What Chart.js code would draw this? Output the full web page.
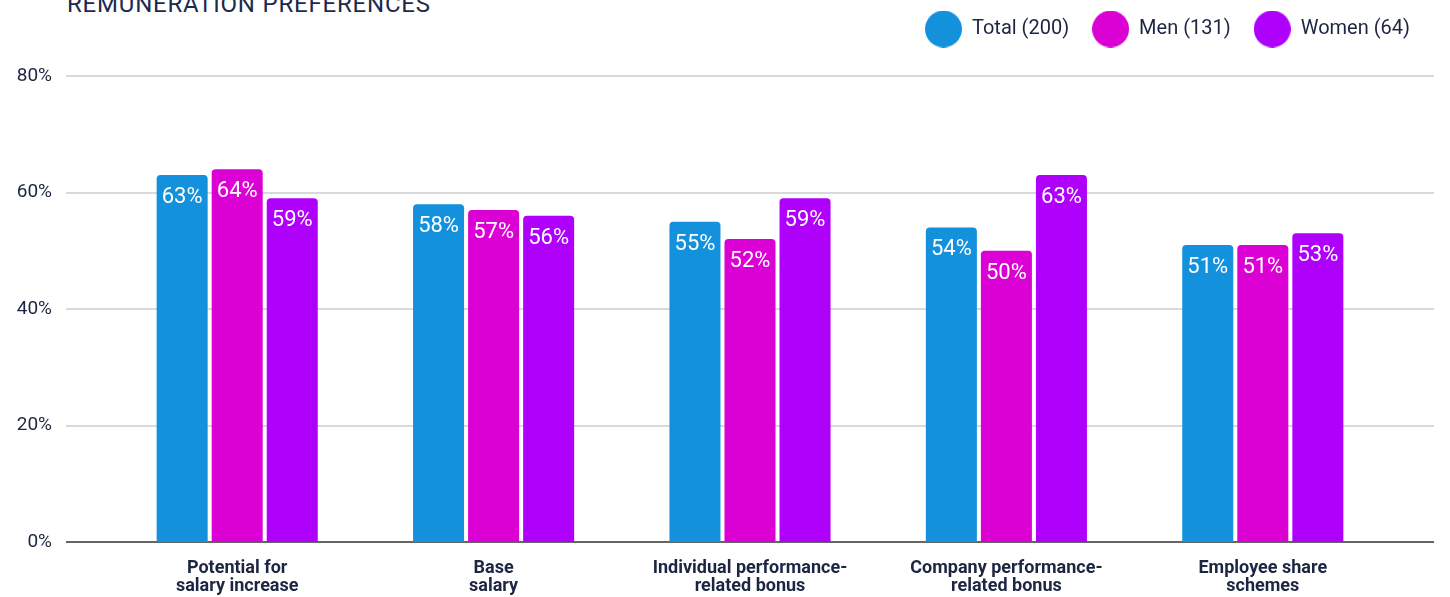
<!DOCTYPE html>
<html>
<head>
<meta charset="utf-8">
<script src="https://cdn.jsdelivr.net/npm/chart.js@4/dist/chart.umd.min.js"></script>
<style>
  html, body { margin: 0; padding: 0; background: #fff; overflow: hidden; }
  .wrap { position: relative; width: 1450px; height: 597px; }
  .title {
    position: absolute; left: 67px; top: -8px;
    font: 400 24px/24px Roboto, sans-serif; letter-spacing: 0.8px;
    color: #1b2a4e; white-space: nowrap;
  }
  canvas { position: absolute; left: 0; top: 0; }
</style>
</head>
<body>
<div class="wrap">
  <div class="title">REMUNERATION PREFERENCES</div>
  <canvas id="remuneration-chart" width="1450" height="597"></canvas>
</div>
<script>
  // Data.
  var categories = [
    ['Potential for', 'salary increase'],
    ['Base', 'salary'],
    ['Individual performance-', 'related bonus'],
    ['Company performance-', 'related bonus'],
    ['Employee share', 'schemes']
  ];
  var seriesNames = ['Total (200)', 'Men (131)', 'Women (64)'];
  var totalValues = [63, 58, 55, 54, 51];
  var menValues = [64, 57, 52, 50, 51];
  var womenValues = [59, 56, 59, 63, 53];
  var yTicks = [0, 20, 40, 60, 80];

  var colors = ['#1391dd', '#db00d3', '#ae00fb'];
  var textColor = '#1c2541';

  // Big round legend markers (bigger than the font allows by default).
  function circleMarker(color) {
    var c = document.createElement('canvas');
    c.width = 37;
    c.height = 37;
    var g = c.getContext('2d');
    g.fillStyle = color;
    g.beginPath();
    g.arc(18.5, 18.5, 18.5, 0, Math.PI * 2);
    g.fill();
    return c;
  }
  var markers = colors.map(circleMarker);

  // Gridlines run past the category area, so they are drawn here.
  var wideGrid = {
    id: 'wideGrid',
    beforeDatasetsDraw: function (chart) {
      var ctx = chart.ctx;
      var y = chart.scales.y;
      ctx.save();
      yTicks.forEach(function (v) {
        var py = Math.round(y.getPixelForValue(v));
        ctx.strokeStyle = v === 0 ? '#666666' : '#d9d9d9';
        ctx.lineWidth = 2;
        ctx.beginPath();
        ctx.moveTo(66, py);
        ctx.lineTo(1434, py);
        ctx.stroke();
      });
      ctx.restore();
    }
  };

  // Value labels inside the top of each bar.
  var barLabels = {
    id: 'barLabels',
    afterDatasetsDraw: function (chart) {
      var ctx = chart.ctx;
      ctx.save();
      ctx.fillStyle = '#ffffff';
      ctx.font = '400 22px Roboto, sans-serif';
      ctx.textAlign = 'center';
      ctx.textBaseline = 'alphabetic';
      chart.data.datasets.forEach(function (ds, i) {
        chart.getDatasetMeta(i).data.forEach(function (bar, j) {
          ctx.fillText(ds.data[j] + '%', bar.x, bar.y + 28);
        });
      });
      ctx.restore();
    }
  };

  // Move the legend to where it sits in the picture.
  var legendNudge = {
    id: 'legendNudge',
    afterLayout: function (chart) {
      var lg = chart.legend;
      lg.left += 42;
      lg.right += 42;
      lg.top -= 27;
      lg.bottom -= 27;
    }
  };

  function makeDataset(idx, values) {
    return {
      label: seriesNames[idx],
      data: values,
      backgroundColor: colors[idx],
      borderRadius: { topLeft: 4, topRight: 4 },
      borderSkipped: 'bottom',
      categoryPercentage: 0.644,
      barPercentage: 0.927
    };
  }

  new Chart(document.getElementById('remuneration-chart'), {
    type: 'bar',
    data: {
      labels: categories,
      datasets: [
        makeDataset(0, totalValues),
        makeDataset(1, menValues),
        makeDataset(2, womenValues)
      ]
    },
    options: {
      responsive: false,
      animation: false,
      layout: {
        padding: { top: 23, right: 59, left: 0, bottom: 0 }
      },
      scales: {
        x: {
          grid: { display: false, drawTicks: false },
          border: { display: false },
          ticks: {
            color: textColor,
            font: { family: 'Roboto, sans-serif', size: 18, weight: 'bold', lineHeight: 1 },
            padding: 17,
            maxRotation: 0,
            autoSkip: false
          },
          afterFit: function (scale) { scale.height = 55; }
        },
        y: {
          min: 0,
          max: 80,
          // tick marks are not drawn; their length only pushes the labels left
          grid: { display: false, drawTicks: true, tickLength: 53 },
          border: { display: false },
          ticks: {
            stepSize: 20,
            color: textColor,
            font: { family: 'Roboto, sans-serif', size: 19 },
            padding: 4,
            callback: function (v) { return v + '%'; }
          },
          afterFit: function (scale) { scale.width = 109; }
        }
      },
      plugins: {
        tooltip: { enabled: false },
        legend: {
          position: 'top',
          align: 'end',
          labels: {
            usePointStyle: true,
            pointStyleWidth: 37,
            padding: 23,
            color: textColor,
            font: { family: 'Roboto, sans-serif', size: 20 },
            generateLabels: function (chart) {
              var items = Chart.defaults.plugins.legend.labels.generateLabels(chart);
              items.forEach(function (item, i) {
                item.pointStyle = markers[i];
              });
              return items;
            }
          }
        }
      }
    },
    plugins: [wideGrid, barLabels, legendNudge]
  });
</script>
</body>
</html>
